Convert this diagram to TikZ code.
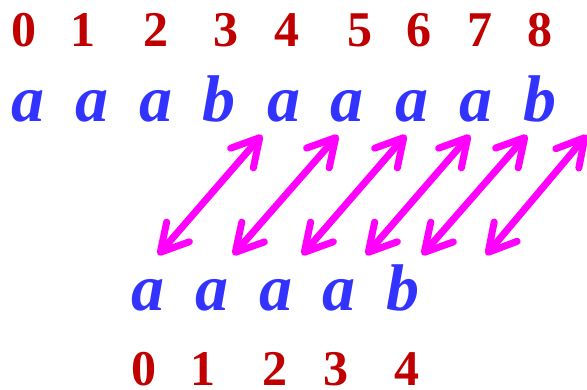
\documentclass[tikz,border=0pt]{standalone}
\usepackage{fontspec}
\setmainfont{Liberation Serif}
\usetikzlibrary{arrows.meta}
\definecolor{numred}{HTML}{C00000}
\definecolor{letblue}{HTML}{3333FF}
\definecolor{arrmag}{HTML}{FF00FF}
\begin{document}
\begin{tikzpicture}[x=1pt,y=-1pt,
  num/.style={anchor=base,inner sep=0pt,text=numred,font=\fontsize{50}{60}\selectfont\bfseries},
  let/.style={anchor=base,inner sep=0pt,text=letblue,font=\fontsize{66}{72}\selectfont\bfseries\itshape},
  dbl/.style={draw=arrmag,line width=7pt,line cap=round,
    {Straight Barb[length=27pt,width=30pt,round]}-{Straight Barb[length=27pt,width=30pt,round]}}]
\useasboundingbox (0,0) rectangle (587,390);
% top indices
\foreach \i/\x in {0/24,1/83,2/156,3/226,4/287,5/360,6/419,7/480,8/540}
  \node[num] (t\i) at (\x,47) {\i};
% text
\foreach \i/\x/\c in {0/28/a,1/92/a,2/156/a,3/219/b,4/284/a,5/347/a,6/412/a,7/476/a,8/540/b}
  \node[let] (s\i) at (\x,122) {\c};
% pattern
\foreach \i/\x/\c in {0/148/a,1/212/a,2/276/a,3/339/a,4/403/b}
  \node[let] (p\i) at (\x,311) {\c};
% pattern indices
\foreach \i/\x in {0/144,1/203,2/275,3/336,4/407}
  \node[num] (q\i) at (\x,385) {\i};
% arrow ends
\foreach \k/\lx/\ux in {1/158/262,2/233/338,3/302/406,4/366/470,5/422/527,6/486/587}{
  \coordinate (lo\k) at (\lx,255);
  \coordinate (up\k) at (\ux,135);
}
\foreach \k in {1,...,6}
  \draw[dbl] (lo\k) -- (up\k);
\end{tikzpicture}
\end{document}
